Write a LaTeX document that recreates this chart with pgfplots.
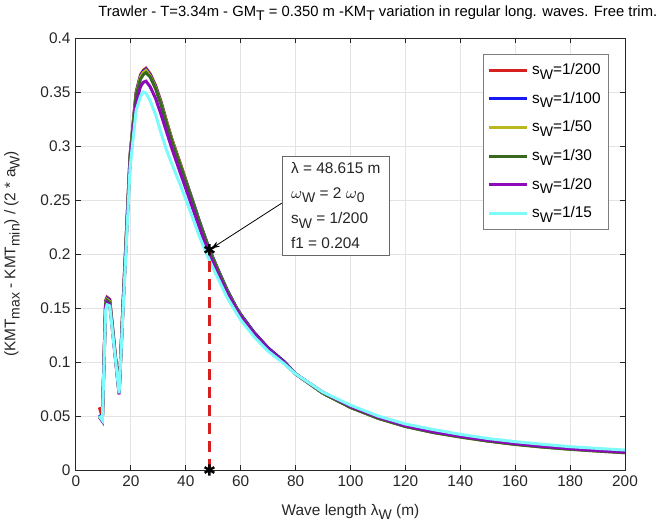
\documentclass[border=0pt]{standalone}
\usepackage{pgfplots}
\pgfplotsset{compat=1.18}
\usepackage{pgfplotstable}
\usepackage{fontspec}
\setmainfont{Liberation Sans}
\usetikzlibrary{arrows.meta}

\definecolor{cRed}{RGB}{214,32,32}
\definecolor{cBlue}{RGB}{25,25,245}
\definecolor{cYel}{RGB}{185,185,30}
\definecolor{cGreen}{RGB}{55,105,30}
\definecolor{cPurp}{RGB}{140,10,185}
\definecolor{cCyan}{RGB}{125,250,250}
\definecolor{axgray}{RGB}{38,38,38}

% lowered subscript in the text font
\newcommand{\sub}[1]{\raisebox{-0.55ex}{\fontsize{7}{7}\selectfont #1}}

% KMT range ratio against wave length, one column per wave steepness
\pgfplotstableread{
lam     s200    s100    s50     s30     s20     s15
8.5     0.058   0.051   0.050   0.050   0.049   0.050
9.6     0.049   0.047   0.046   0.046   0.045   0.046
10.8    0.157   0.156   0.155   0.154   0.152   0.148
11.3    0.160   0.159   0.158   0.157   0.155   0.153
12.3    0.158   0.157   0.156   0.155   0.153   0.152
15.7    0.072   0.072   0.071   0.071   0.070   0.071
17.2    0.158   0.157   0.156   0.156   0.153   0.150
19.7    0.292   0.291   0.290   0.289   0.285   0.280
21.9    0.350   0.349   0.348   0.347   0.340   0.333
23.5    0.366   0.365   0.364   0.362   0.355   0.346
24.5    0.370   0.369   0.368   0.366   0.359   0.350
25.5    0.372   0.371   0.370   0.368   0.360   0.349
27      0.367   0.366   0.365   0.364   0.355   0.342
29      0.356   0.355   0.354   0.353   0.344   0.329
31      0.341   0.340   0.339   0.338   0.329   0.312
33      0.323   0.322   0.322   0.321   0.313   0.296
35      0.306   0.305   0.305   0.304   0.297   0.283
38      0.284   0.283   0.283   0.282   0.275   0.264
42      0.253   0.253   0.252   0.252   0.246   0.237
45      0.230   0.230   0.229   0.229   0.224   0.216
48.615  0.204   0.204   0.203   0.203   0.199   0.194
52      0.184   0.184   0.183   0.183   0.180   0.176
55      0.167   0.167   0.166   0.166   0.164   0.160
58.3    0.151   0.151   0.150   0.150   0.149   0.146
60      0.144   0.144   0.143   0.143   0.142   0.139
65      0.127   0.127   0.126   0.126   0.126   0.123
70      0.113   0.113   0.112   0.112   0.112   0.110
76      0.100   0.100   0.099   0.099   0.099   0.098
80      0.089   0.089   0.089   0.089   0.089   0.089
90      0.071   0.071   0.071   0.071   0.072   0.072
100     0.058   0.058   0.058   0.058   0.059   0.060
110     0.048   0.048   0.048   0.048   0.049   0.050
120     0.0405  0.0405  0.0403  0.0403  0.0410  0.0426
130     0.0350  0.0350  0.0348  0.0348  0.0355  0.0375
140     0.0310  0.0310  0.0305  0.0305  0.0312  0.0330
150     0.0270  0.0270  0.0268  0.0268  0.0275  0.0292
160     0.0240  0.0240  0.0237  0.0237  0.0244  0.0262
170     0.0215  0.0215  0.0212  0.0212  0.0219  0.0238
180     0.0195  0.0195  0.0192  0.0192  0.0198  0.0216
190     0.0180  0.0180  0.0175  0.0175  0.0180  0.0200
200     0.0165  0.0165  0.0160  0.0160  0.0165  0.0185
}\kmtdata

\begin{document}
\fontsize{7.7}{9.2}\selectfont
\begin{tikzpicture}
\useasboundingbox (-38pt,-28pt) rectangle (292pt,235pt);
\begin{axis}[
  scale only axis, width=274.5pt, height=216pt,
  xmin=0, xmax=200, ymin=0, ymax=0.4,
  clip=false,
  xtick={0,20,40,60,80,100,120,140,160,180,200},
  ytick={0,0.05,0.1,0.15,0.2,0.25,0.3,0.35,0.4},
  yticklabels={0,0.05,0.1,0.15,0.2,0.25,0.3,0.35,0.4},
  /pgf/number format/assume math mode=true,
  tick align=inside, major tick length=2.5pt,
  tick style={axgray, line width=0.5pt},
  axis line style={axgray, line width=0.5pt},
  tick label style={text=axgray, font=\fontsize{7.7}{9}\selectfont},
  grid=major, major grid style={gray!22, line width=0.5pt},
  xlabel={Wave length λ\sub{W} (m)},
  ylabel={(KMT\sub{max} - KMT\sub{min}) / (2 * a\sub{W})},
  xlabel style={at={(axis description cs:0.5,-0.0972)}, anchor=center, text=axgray},
  ylabel style={at={(axis description cs:-0.1166,0.5)}, anchor=center, text=axgray},
  legend style={at={(0.971,0.963)}, anchor=north east, draw=axgray!60,
    line width=0.5pt, fill=white, font=\fontsize{7.7}{9}\selectfont,
    inner xsep=2pt, inner ysep=2.5pt, row sep=3.6pt},
  legend cell align=left,
  legend image code/.code={\draw[#1, line width=1.5pt] (0pt,0pt) -- (19pt,0pt);},
  every axis plot/.append style={line width=1.5pt},
]
\addplot[cRed]   table[x=lam, y=s200] {\kmtdata};
\addlegendentry{s\sub{W}=1/200}
\addplot[cBlue]  table[x=lam, y=s100] {\kmtdata};
\addlegendentry{s\sub{W}=1/100}
\addplot[cYel]   table[x=lam, y=s50]  {\kmtdata};
\addlegendentry{s\sub{W}=1/50}
\addplot[cGreen] table[x=lam, y=s30]  {\kmtdata};
\addlegendentry{s\sub{W}=1/30}
\addplot[cPurp]  table[x=lam, y=s20]  {\kmtdata};
\addlegendentry{s\sub{W}=1/20}
\addplot[cCyan]  table[x=lam, y=s15]  {\kmtdata};
\addlegendentry{s\sub{W}=1/15}

% selected point: 2 omega_0 at s_W = 1/200
\addplot[cRed, line width=1.5pt, dash pattern=on 5.5pt off 3.5pt, forget plot]
  coordinates {(48.615,0) (48.615,0.204)};
\addplot[only marks, mark=asterisk, mark size=2.8pt, black, line width=1.2pt, forget plot]
  coordinates {(48.615,0.204) (48.615,0)};

\draw[-{Stealth[length=4pt,width=3pt]}, line width=0.4pt, black]
  (axis cs:74.9,0.247) -- (axis cs:49.4,0.2052);
\node[draw=axgray!70, line width=0.5pt, fill=white, anchor=west, align=left,
      inner xsep=4.5pt, inner ysep=3pt, text=axgray,
      font=\fontsize{7.7}{12.6}\selectfont]
  at (axis cs:74.9,0.2448)
  {λ = 48.615 m\\ $\omega$\sub{W} = 2 $\omega$\sub{0}\\ s\sub{W} = 1/200\\ f1 = 0.204};
\end{axis}
\node[text=black, font=\fontsize{7.4}{9}\selectfont, anchor=west, inner sep=0pt]
  at (11pt,228.5pt)
  {Trawler - T=3.34m - GM\sub{T} = 0.350 m -KM\sub{T} variation in regular long. waves. Free trim.};
\end{tikzpicture}
\end{document}
